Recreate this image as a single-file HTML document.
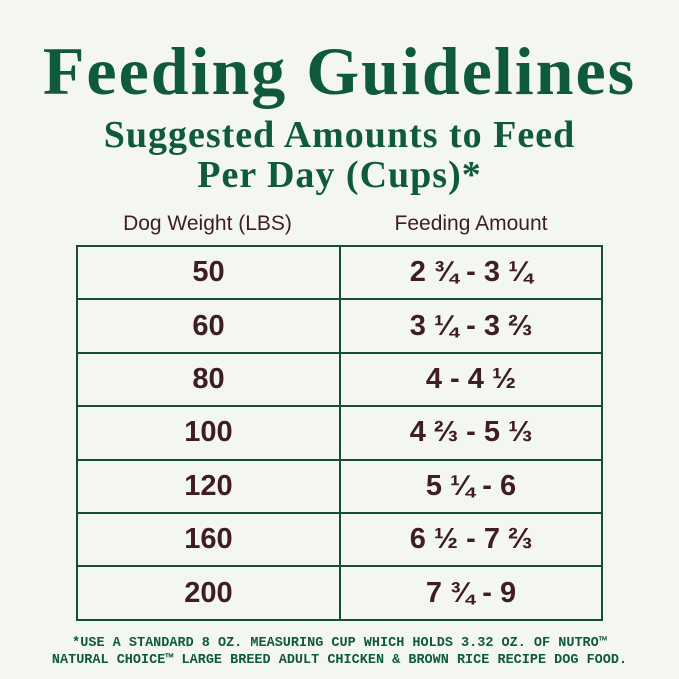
<!DOCTYPE html>
<html><head><style>
html,body{margin:0;padding:0;}
body{width:679px;height:679px;background:#f4f6f0;position:relative;overflow:hidden;font-family:"Liberation Sans",sans-serif;}
.t{position:absolute;left:0;width:679px;text-align:center;font-family:"Liberation Serif",serif;font-weight:bold;color:#0f5a3a;white-space:nowrap;}
table{position:absolute;left:76px;top:245px;width:527px;border-collapse:collapse;}
td{border:2px solid #1a4d35;height:51.4px;text-align:center;font-size:29px;font-weight:bold;color:#3e1e22;padding:0;}
.h{position:absolute;top:212px;font-size:21px;color:#3e1e22;text-align:center;}
.f{position:absolute;left:0;width:679px;text-align:center;font-family:"Liberation Mono",monospace;font-weight:bold;font-size:13.5px;color:#0f5a3a;line-height:17px;}
</style></head><body>
<div class="t" style="top:32px;font-size:68px;letter-spacing:2px;">Feeding Guidelines</div>
<div class="t" style="top:115px;font-size:38px;line-height:40px;letter-spacing:1px;">Suggested Amounts to Feed<br>Per Day (Cups)*</div>
<div class="h" style="left:76px;width:263px;">Dog Weight (LBS)</div>
<div class="h" style="left:339px;width:264px;">Feeding Amount</div>
<table>
<tr><td style="width:261px">50</td><td>2 ¾ - 3 ¼</td></tr>
<tr><td>60</td><td>3 ¼ - 3 ⅔</td></tr>
<tr><td>80</td><td>4 - 4 ½</td></tr>
<tr><td>100</td><td>4 ⅔ - 5 ⅓</td></tr>
<tr><td>120</td><td>5 ¼ - 6</td></tr>
<tr><td>160</td><td>6 ½ - 7 ⅔</td></tr>
<tr><td>200</td><td>7 ¾ - 9</td></tr>
</table>
<div class="f" style="top:635px;">*USE A STANDARD 8 OZ. MEASURING CUP WHICH HOLDS 3.32 OZ. OF NUTRO™<br>NATURAL CHOICE™ LARGE BREED ADULT CHICKEN &amp; BROWN RICE RECIPE DOG FOOD.</div>
</body></html>
